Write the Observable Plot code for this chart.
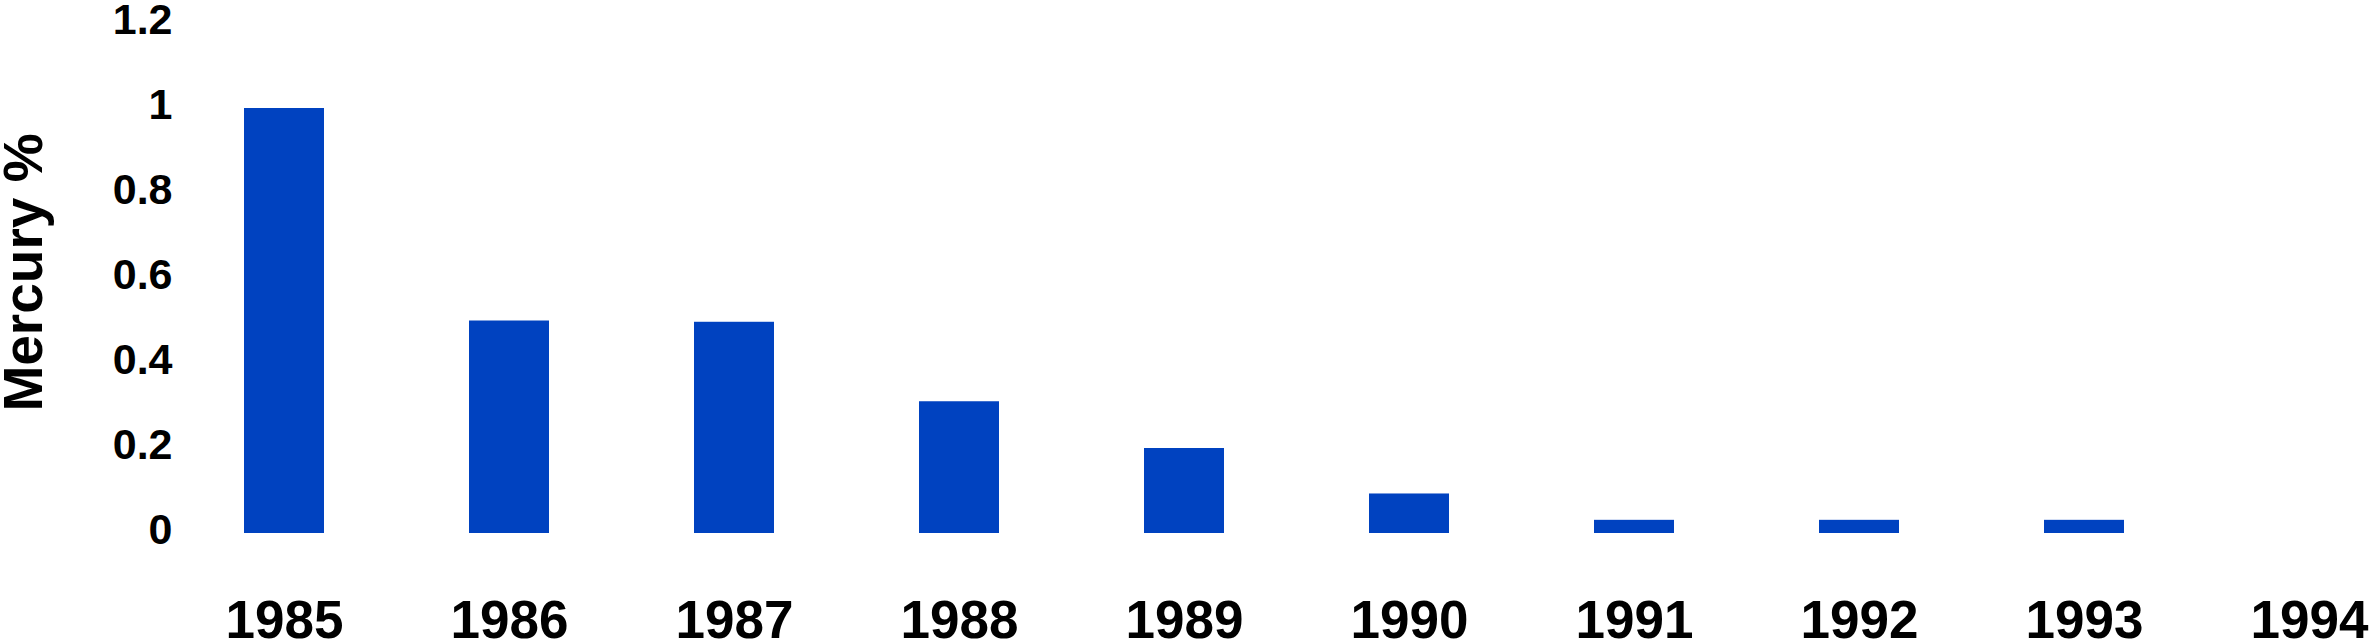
<!DOCTYPE html>
<html>
<head>
<meta charset="utf-8">
<script src="https://cdn.jsdelivr.net/npm/d3@7"></script>
<script src="https://cdn.jsdelivr.net/npm/@observablehq/plot@0.6"></script>
<style>
  html, body { margin: 0; padding: 0; background: #fff; }
  #chart svg { display: block; }
</style>
</head>
<body>
<div id="chart"></div>
<script>
const years = ["1985","1986","1987","1988","1989","1990","1991","1992","1993","1994"];
const mercury = [1.0, 0.5, 0.497, 0.31, 0.2, 0.093, 0.031, 0.031, 0.031, 0];
const yTicks = [0, 0.2, 0.4, 0.6, 0.8, 1, 1.2];
const yTitle = "Mercury %";

const data = years.map((year, i) => ({year, value: mercury[i]}));
const font = "'Liberation Sans', Arial, Helvetica, sans-serif";

const chart = Plot.plot({
  width: 2375,
  height: 641,
  marginLeft: 242,
  marginRight: 24,
  marginTop: 23,
  marginBottom: 108,
  style: {fontFamily: font, fontWeight: "bold", color: "#000", background: "#fff"},
  x: {domain: years, paddingInner: 0.645, paddingOuter: 0, align: 0.5},
  y: {domain: [0, 1.2]},
  marks: [
    Plot.barY(data, {x: "year", y: "value", fill: "#0042C0"}),
    Plot.axisY({ticks: yTicks, tickFormat: d => String(d), tickSize: 0, tickPadding: 70, fontSize: 43, fontWeight: "bold", dy: -3, label: null}),
    Plot.axisX({tickSize: 0, tickPadding: 67, fontSize: 53, fontWeight: "bold", label: null}),
    Plot.text([yTitle], {frameAnchor: "left", textAnchor: "middle", lineAnchor: "middle", text: d => d, rotate: -90, fontSize: 55, fontWeight: "bold", dx: -218, dy: -6, fill: "#000"})
  ]
});
document.getElementById("chart").appendChild(chart);
</script>
</body>
</html>
